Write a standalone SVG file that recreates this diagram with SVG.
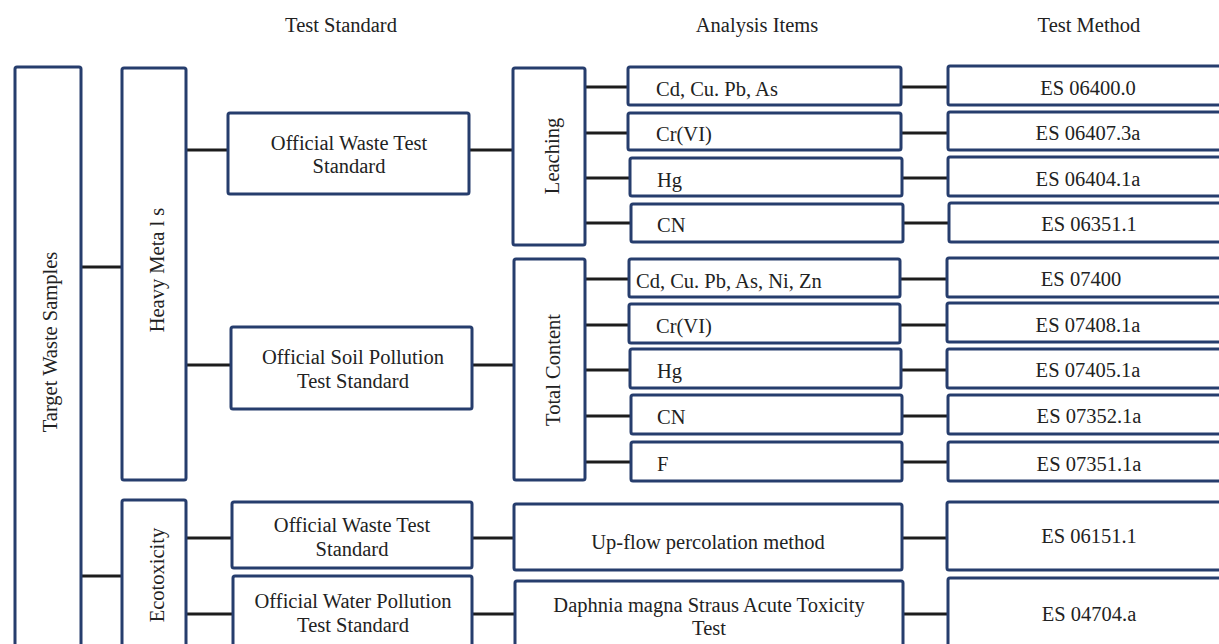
<svg xmlns="http://www.w3.org/2000/svg" width="1219" height="644" viewBox="0 0 1219 644">
<style>
.b{fill:#fff;stroke:#263d6d;stroke-width:3}
.c{stroke:#1c1c1c;stroke-width:3;fill:none}
text{font-family:"Liberation Serif","Times New Roman",serif;font-size:20.5px;fill:#222}
.m{text-anchor:middle}
</style>
<rect width="1219" height="644" fill="#fff"/>
<g id="headers">
<text class="m" x="341" y="32">Test Standard</text>
<text class="m" x="757" y="32">Analysis Items</text>
<text class="m" x="1089" y="32">Test Method</text>
</g>
<g id="connectors">
<path class="c" d="M81 267H122M81 576H122"/>
<path class="c" d="M186 150H228M469 150H513"/>
<path class="c" d="M186 365H231M472 365H514"/>
<path class="c" d="M585 87H628M585 133H628M585 178H630M585 223H631"/>
<path class="c" d="M901 87H948M901 133H948M902 178H948M903 223H949"/>
<path class="c" d="M585 279H629M585 325H629M585 370H630M585 416H631M585 462H631"/>
<path class="c" d="M900 279H947M900 325H947M901 370H947M902 416H948M902 462H948"/>
<path class="c" d="M186 538H232M472 538H514M902 538H947"/>
<path class="c" d="M186 614H233M472 614H515M903 614H948"/>
</g>
<g id="target"><rect class="b" x="15" y="67" width="66" height="600" rx="2"/><text class="m" transform="translate(57 342) rotate(-90)">Target Waste Samples</text></g>
<g id="heavy"><rect class="b" x="122" y="68" width="64" height="412" rx="2"/><text class="m" transform="translate(164 270) rotate(-90)">Heavy Meta l s</text></g>
<g id="eco"><rect class="b" x="122" y="500" width="64" height="170" rx="2"/><text class="m" transform="translate(164 575) rotate(-90)">Ecotoxicity</text></g>
<g id="ows1"><rect class="b" x="228" y="113" width="241" height="81" rx="2"/><text class="m" x="349" y="150">Official Waste Test</text><text class="m" x="349" y="173">Standard</text></g>
<g id="osp"><rect class="b" x="231" y="327" width="241" height="82" rx="2"/><text class="m" x="353" y="364">Official Soil Pollution</text><text class="m" x="353" y="388">Test Standard</text></g>
<g id="leaching"><rect class="b" x="513" y="68" width="72" height="177" rx="2"/><text class="m" transform="translate(559 156) rotate(-90)">Leaching</text></g>
<g id="total"><rect class="b" x="514" y="259" width="71" height="221" rx="2"/><text class="m" transform="translate(560 370) rotate(-90)">Total Content</text></g>
<g id="l1"><rect class="b" x="628" y="67" width="273" height="38" rx="2"/><text x="656" y="96">Cd, Cu. Pb, As</text></g>
<g id="l2"><rect class="b" x="628" y="113" width="273" height="37" rx="2"/><text x="656" y="141">Cr(VI)</text></g>
<g id="l3"><rect class="b" x="630" y="158" width="272" height="38" rx="2"/><text x="657" y="187">Hg</text></g>
<g id="l4"><rect class="b" x="631" y="204" width="272" height="38" rx="2"/><text x="657" y="232">CN</text></g>
<g id="m1"><rect class="b" x="948" y="66" width="280" height="39" rx="2"/><text class="m" x="1088" y="95">ES 06400.0</text></g>
<g id="m2"><rect class="b" x="948" y="112" width="280" height="38" rx="2"/><text class="m" x="1088" y="140">ES 06407.3a</text></g>
<g id="m3"><rect class="b" x="948" y="157" width="280" height="39" rx="2"/><text class="m" x="1088" y="186">ES 06404.1a</text></g>
<g id="m4"><rect class="b" x="949" y="203" width="280" height="39" rx="2"/><text class="m" x="1089" y="231">ES 06351.1</text></g>
<g id="t1"><rect class="b" x="629" y="259" width="271" height="38" rx="2"/><text x="636" y="288">Cd, Cu. Pb, As, Ni, Zn</text></g>
<g id="t2"><rect class="b" x="629" y="304" width="271" height="39" rx="2"/><text x="656" y="333">Cr(VI)</text></g>
<g id="t3"><rect class="b" x="630" y="349" width="271" height="39" rx="2"/><text x="657" y="378">Hg</text></g>
<g id="t4"><rect class="b" x="631" y="395" width="271" height="39" rx="2"/><text x="657" y="424">CN</text></g>
<g id="t5"><rect class="b" x="631" y="442" width="271" height="39" rx="2"/><text x="657" y="471">F</text></g>
<g id="n1"><rect class="b" x="947" y="258" width="280" height="39" rx="2"/><text class="m" x="1081" y="286">ES 07400</text></g>
<g id="n2"><rect class="b" x="947" y="303" width="280" height="39" rx="2"/><text class="m" x="1088" y="332">ES 07408.1a</text></g>
<g id="n3"><rect class="b" x="947" y="349" width="280" height="39" rx="2"/><text class="m" x="1088" y="377">ES 07405.1a</text></g>
<g id="n4"><rect class="b" x="948" y="395" width="280" height="39" rx="2"/><text class="m" x="1089" y="423">ES 07352.1a</text></g>
<g id="n5"><rect class="b" x="948" y="442" width="280" height="39" rx="2"/><text class="m" x="1089" y="471">ES 07351.1a</text></g>
<g id="ows2"><rect class="b" x="232" y="502" width="240" height="66" rx="2"/><text class="m" x="352" y="532">Official Waste Test</text><text class="m" x="352" y="556">Standard</text></g>
<g id="upflow"><rect class="b" x="514" y="504" width="388" height="66" rx="2"/><text class="m" x="708" y="549">Up-flow percolation method</text></g>
<g id="e1"><rect class="b" x="947" y="502" width="280" height="68" rx="2"/><text class="m" x="1089" y="543">ES 06151.1</text></g>
<g id="owp"><rect class="b" x="233" y="576" width="239" height="100" rx="2"/><text class="m" x="353" y="608">Official Water Pollution</text><text class="m" x="353" y="632">Test Standard</text></g>
<g id="daphnia"><rect class="b" x="515" y="581" width="388" height="100" rx="2"/><text class="m" x="709" y="612">Daphnia magna Straus Acute Toxicity</text><text class="m" x="709" y="635">Test</text></g>
<g id="e2"><rect class="b" x="948" y="578" width="280" height="100" rx="2"/><text class="m" x="1089" y="621">ES 04704.a</text></g>
</svg>
